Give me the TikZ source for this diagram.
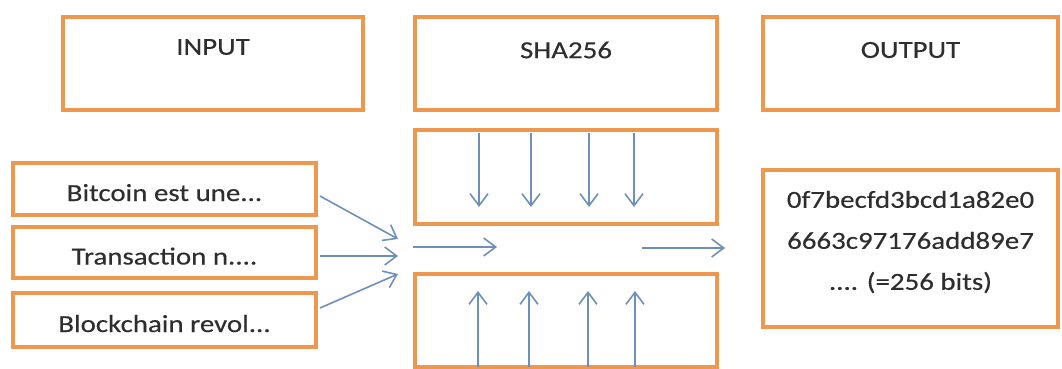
\documentclass[tikz,border=0pt]{standalone}
\usepackage{fontspec}
\setmainfont{Carlito}[FakeStretch=1.18,FakeBold=0.35]
\usetikzlibrary{arrows.meta}
\definecolor{boxorange}{HTML}{EE984F}
\definecolor{arrowblue}{HTML}{6E8FBA}
\definecolor{txt}{HTML}{2E2E2E}
\tikzset{
  box/.style={draw=boxorange, line width=3.5pt, rectangle, inner sep=0pt, fill=white},
  lbl/.style={text=txt, font=\fontsize{24.5}{41}\selectfont, inner sep=0pt},
  inbox/.style={box, minimum width=303pt, text=txt, font=\fontsize{24.5}{41}\selectfont, text height=24pt, text depth=0pt},
  flow/.style={draw=arrowblue, line width=1.6pt, -{Straight Barb[length=12pt,width=18pt,line width=1.6pt]}}
}
\begin{document}
\begin{tikzpicture}[x=1pt,y=-1pt]
\useasboundingbox (0,0) rectangle (1062,369);
% header boxes
\node[box, minimum width=300pt, minimum height=93pt] (inhead) at (213,63.5) {};
\node[box, minimum width=302pt, minimum height=93pt] (shahead) at (566,63.5) {};
\node[box, minimum width=295pt, minimum height=93pt] (outhead) at (910.5,63.5) {};
\node[lbl] (tin) at (213,47) {INPUT};
\node[lbl] (tsha) at (566,50) {SHA256};
\node[lbl] (tout) at (910.5,50) {OUTPUT};
% input boxes
\node[inbox, minimum height=52pt] (b1) at (164.5,189) {Bitcoin est une...};
\node[inbox, minimum height=51pt] (b2) at (164.5,252.5) {Transaction n....};
\node[inbox, minimum height=54pt] (b3) at (164.5,320) {Blockchain revol...};
% SHA boxes
\node[box, minimum width=302pt, minimum height=94pt] (shaup) at (566,177) {};
\node[box, minimum width=302pt, minimum height=93pt] (shalow) at (566,320.5) {};
% output hash box
\node[box, minimum width=295pt, minimum height=157pt] (hash) at (910.5,248.5) {};
\node[lbl, align=center] (thash) at (910.5,242) {0f7becfd3bcd1a82e0\\6663c97176add89e7\\.... (=256 bits)};
% converging arrows
\coordinate (s1) at (320,196);
\coordinate (s2) at (320,256);
\coordinate (s3) at (320,308);
\coordinate (e1) at (398,239);
\coordinate (e2) at (398,256);
\coordinate (e3) at (398,274);
\draw[flow] (s1) -- (e1);
\draw[flow] (s2) -- (e2);
\draw[flow] (s3) -- (e3);
% horizontal arrows
\coordinate (h1) at (413,247);
\coordinate (h2) at (497,247);
\coordinate (r1) at (642,248);
\coordinate (r2) at (725,248);
\draw[flow] (h1) -- (h2);
\draw[flow] (r1) -- (r2);
% down arrows
\foreach \i/\x in {1/479,2/531,3/589,4/634}{
  \coordinate (d\i a) at (\x,133);
  \coordinate (d\i b) at (\x,207);
  \draw[flow] (d\i a) -- (d\i b);
}
% up arrows
\foreach \i/\x in {1/478,2/529,3/588,4/635}{
  \coordinate (u\i a) at (\x,367);
  \coordinate (u\i b) at (\x,291);
  \draw[flow] (u\i a) -- (u\i b);
}
\end{tikzpicture}
\end{document}
